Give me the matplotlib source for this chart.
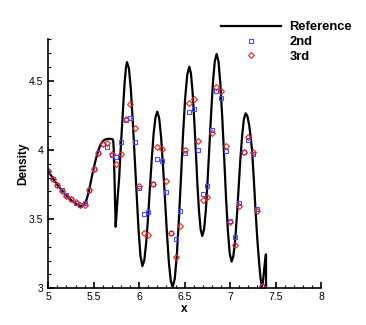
import matplotlib
matplotlib.use("Agg")
import matplotlib.pyplot as plt
from matplotlib.ticker import MultipleLocator

# ---------------------------------------------------------
# Shock / entropy-wave interaction, zoom on x = 5..8
# Reference density vs 2nd and 3rd order results
# ---------------------------------------------------------

plt.rcParams["font.family"] = ["Liberation Sans", "DejaVu Sans"]

# Reference solution
ref_x = [
    5.00, 5.05, 5.10, 5.15, 5.20, 5.25, 5.30, 5.35, 5.38, 5.40,
    5.42, 5.44, 5.46, 5.48, 5.50, 5.52, 5.54, 5.56, 5.58, 5.60,
    5.62, 5.65, 5.68, 5.70, 5.71, 5.715, 5.72, 5.73, 5.741, 5.75,
    5.76, 5.78, 5.79, 5.80, 5.81, 5.826, 5.84, 5.855, 5.866,
    5.887, 5.908, 5.929, 5.950, 5.972, 5.993, 6.014, 6.035,
    6.056, 6.076, 6.097, 6.117, 6.138, 6.158, 6.179, 6.199,
    6.220, 6.241, 6.262, 6.284, 6.305, 6.326, 6.347, 6.368,
    6.391, 6.414, 6.437, 6.460, 6.482, 6.505, 6.528, 6.551,
    6.569, 6.587, 6.605, 6.623, 6.640, 6.658, 6.676, 6.694,
    6.714, 6.734, 6.753, 6.773, 6.793, 6.813, 6.832, 6.852,
    6.873, 6.893, 6.914, 6.935, 6.955, 6.976, 6.996, 7.017,
    7.036, 7.056, 7.075, 7.094, 7.113, 7.133, 7.152, 7.171,
    7.190, 7.210, 7.225, 7.241, 7.260, 7.280, 7.300, 7.320,
    7.335, 7.350, 7.360, 7.375, 7.393, 7.395, 7.397,
]
ref_rho = [
    3.848, 3.795, 3.748, 3.706, 3.668, 3.638, 3.613, 3.595, 3.597, 3.610,
    3.640, 3.685, 3.745, 3.810, 3.870, 3.925, 3.975, 4.015, 4.045, 4.063,
    4.074, 4.080, 4.081, 4.079, 4.075, 4.060, 4.000, 3.750, 3.445, 3.530,
    3.630, 3.800, 3.930, 4.050, 4.160, 4.340, 4.490, 4.600, 4.635,
    4.590, 4.440, 4.210, 3.950, 3.680, 3.420, 3.235, 3.160,
    3.202, 3.323, 3.505, 3.719, 3.932, 4.114, 4.235, 4.277,
    4.229, 4.092, 3.885, 3.642, 3.399, 3.192, 3.055, 3.007,
    3.068, 3.240, 3.500, 3.805, 4.109, 4.369, 4.541, 4.602,
    4.555, 4.423, 4.224, 3.990, 3.756, 3.557, 3.425, 3.378,
    3.428, 3.570, 3.785, 4.036, 4.287, 4.502, 4.644, 4.694,
    4.637, 4.475, 4.230, 3.944, 3.657, 3.412, 3.250, 3.193,
    3.234, 3.350, 3.524, 3.729, 3.934, 4.108, 4.224, 4.265,
    4.245, 4.180, 4.100, 4.000, 3.800, 3.560, 3.350, 3.180,
    3.070, 3.015, 3.040, 3.140, 3.245, 3.245, 2.000,
]

# Sample points of the two schemes
x_pts = [
    5.00, 5.05, 5.10, 5.15, 5.20, 5.25, 5.30, 5.35, 5.40, 5.45,
    5.50, 5.55, 5.60, 5.65, 5.70, 5.75, 5.80, 5.85, 5.90, 5.95,
    6.00, 6.05, 6.10, 6.15, 6.20, 6.25, 6.30, 6.35, 6.40, 6.45,
    6.50, 6.55, 6.60, 6.65, 6.70, 6.75, 6.80, 6.85, 6.90, 6.95,
    7.00, 7.05, 7.10, 7.15, 7.20, 7.25, 7.30, 7.35,
]
rho_2nd = [
    3.848, 3.793, 3.748, 3.708, 3.672, 3.643, 3.617, 3.602, 3.617, 3.713,
    3.863, 3.978, 4.046, 4.022, 3.961, 3.952, 4.060, 4.215, 4.234, 4.055,
    3.723, 3.537, 3.549, 3.757, 3.935, 3.920, 3.699, 3.398, 3.354, 3.559,
    3.978, 4.277, 4.294, 3.998, 3.684, 3.740, 4.142, 4.424, 4.378, 3.993,
    3.489, 3.369, 3.619, 3.986, 4.072, 3.971, 3.573, 3.020,
]
rho_3rd = [
    3.848, 3.793, 3.747, 3.701, 3.667, 3.643, 3.624, 3.602, 3.605, 3.713,
    3.863, 3.978, 4.046, 4.051, 3.973, 3.899, 3.973, 4.222, 4.333, 4.161,
    3.742, 3.402, 3.388, 3.757, 4.019, 4.007, 3.773, 3.398, 3.224, 3.451,
    4.002, 4.340, 4.371, 4.065, 3.639, 3.663, 4.120, 4.453, 4.429, 4.029,
    3.480, 3.311, 3.598, 3.986, 4.094, 3.988, 3.557, 3.019,
]

fig = plt.figure(figsize=(3.66, 3.25), dpi=100)
ax = fig.add_axes([48.3 / 366, 1 - 288.3 / 325, (321 - 48.3) / 366, (288.3 - 39.3) / 325])

ax.plot(ref_x, ref_rho, color="black", linewidth=1.6, label="Reference")
ax.plot(x_pts, rho_2nd, linestyle="none", marker="s", markersize=3.0,
        markerfacecolor="none", markeredgecolor="#4a4aff", markeredgewidth=0.8, label="2nd")
ax.plot(x_pts, rho_3rd, linestyle="none", marker="D", markersize=3.0,
        markerfacecolor="none", markeredgecolor="#e02424", markeredgewidth=0.8, label="3rd")

ax.set_xlim(5, 8)
ax.set_ylim(3, 4.8)

# Tecplot-like axes: only left and bottom, ticks inside
ax.spines["top"].set_visible(False)
ax.spines["right"].set_visible(False)
ax.spines["left"].set_linewidth(1.2)
ax.spines["bottom"].set_linewidth(1.2)

ax.xaxis.set_major_locator(MultipleLocator(0.5))
ax.xaxis.set_minor_locator(MultipleLocator(0.1))
ax.yaxis.set_major_locator(MultipleLocator(0.5))
ax.yaxis.set_minor_locator(MultipleLocator(0.1))
ax.set_xticks([5, 5.5, 6, 6.5, 7, 7.5, 8], ["5", "5.5", "6", "6.5", "7", "7.5", "8"])
ax.set_yticks([3, 3.5, 4, 4.5], ["3", "3.5", "4", "4.5"])
ax.tick_params(which="major", direction="in", length=4.5, width=1.2, labelsize=7.5, pad=2.5)
ax.tick_params(which="minor", direction="in", length=2.5, width=0.8)
ax.tick_params(axis="y", which="major", pad=3.5)

ax.set_xlabel("x", fontsize=8.5, fontweight="bold", labelpad=1)
ax.set_ylabel("Density", fontsize=8.5, fontweight="bold", labelpad=0)

ax.legend(loc="upper left", bbox_to_anchor=(215 / 366, 1 - 15 / 325),
          bbox_transform=fig.transFigure, frameon=False,
          prop={"weight": "bold", "size": 9.3}, handlelength=4.6,
          handletextpad=0.65, labelspacing=0.2, borderpad=0)

fig.savefig("out.png", dpi=100)
plt.close(fig)
